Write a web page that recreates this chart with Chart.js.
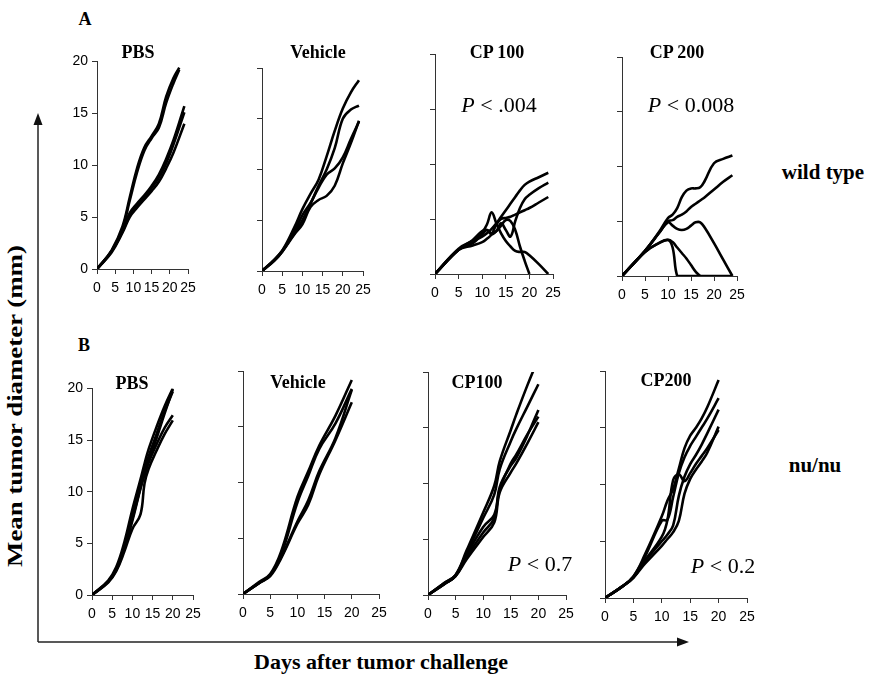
<!DOCTYPE html>
<html>
<head>
<meta charset="utf-8">
<script src="https://cdn.jsdelivr.net/npm/chart.js@4.4.0/dist/chart.umd.min.js"></script>
<style>
  body { margin: 0; background: #fff; }
  #fig { position: relative; width: 872px; height: 675px; overflow: hidden; }
  canvas { position: absolute; }
  .t { position: absolute; transform: translate(-50%, -50%); white-space: nowrap; color: #000;
       font-family: "Liberation Serif", "Times New Roman", serif; }
  .b { font-weight: bold; }
  .p { font-size: 22px; }
  .p i { font-style: italic; }
</style>
</head>
<body>
<div id="fig">
  <svg width="872" height="675" style="position:absolute;left:0;top:0">
    <line x1="38" y1="642" x2="38" y2="122" stroke="#222" stroke-width="1.5"/>
    <polygon points="38,113 33.5,125 42.5,125" fill="#111"/>
    <line x1="38" y1="642" x2="678" y2="642" stroke="#222" stroke-width="1.5"/>
    <polygon points="689,642 677,637.5 677,646.5" fill="#111"/>
  </svg>

  <canvas id="wtPbsC"></canvas>
  <canvas id="wtVehC"></canvas>
  <canvas id="wtCp100C"></canvas>
  <canvas id="wtCp200C"></canvas>
  <canvas id="nuPbsC"></canvas>
  <canvas id="nuVehC"></canvas>
  <canvas id="nuCp100C"></canvas>
  <canvas id="nuCp200C"></canvas>

  <div class="t b" style="left:85px;top:19px;font-size:18px">A</div>
  <div class="t b" style="left:84px;top:345px;font-size:18px">B</div>

  <div class="t b" style="left:138px;top:52px;font-size:18px">PBS</div>
  <div class="t b" style="left:318px;top:52px;font-size:18px">Vehicle</div>
  <div class="t b" style="left:497px;top:52px;font-size:18px">CP 100</div>
  <div class="t b" style="left:677px;top:52px;font-size:18px">CP 200</div>

  <div class="t b" style="left:132px;top:383px;font-size:18px">PBS</div>
  <div class="t b" style="left:298px;top:382px;font-size:18px">Vehicle</div>
  <div class="t b" style="left:477px;top:382px;font-size:18px">CP100</div>
  <div class="t b" style="left:666px;top:380px;font-size:18px">CP200</div>

  <div class="t p" style="left:499px;top:105px"><i>P</i> &lt; .004</div>
  <div class="t p" style="left:691px;top:105px"><i>P</i> &lt; 0.008</div>
  <div class="t p" style="left:540px;top:564px"><i>P</i> &lt; 0.7</div>
  <div class="t p" style="left:723px;top:566px"><i>P</i> &lt; 0.2</div>

  <div class="t b" style="left:823px;top:172px;font-size:21px">wild type</div>
  <div class="t b" style="left:815px;top:465px;font-size:21px">nu/nu</div>

  <div class="t b" style="left:381px;top:662px;font-size:22px">Days after tumor challenge</div>
  <div class="t b" style="left:15px;top:406px;font-size:22px;transform:translate(-50%,-50%) rotate(-90deg) scaleX(1.22)">Mean tumor diameter (mm)</div>
</div>

<script>
// ---- data: days after challenge, tumor diameter (mm) per mouse ----
// A: wild type
var daysWtPbs = [0, 4, 7, 9, 11, 13, 15, 17, 19, 21, 22.6, 24];
var wtPbs = [
  [0, 1.8, 4.1, 6.9, 9.7, 11.7, 12.8, 14.0, 16.6, 18.4, 19.4, null],
  [0, 1.7, 3.9, 6.6, 9.3, 11.4, 12.6, 13.6, 16.0, 17.9, 19.2, null],
  [0, 1.7, 3.7, 5.4, 6.3, 7.1, 8.0, 9.1, 10.6, 12.4, null, 15.7],
  [0, 1.7, 3.6, 5.2, 6.1, 6.9, 7.8, 8.8, 10.2, 12.0, null, 15.1],
  [0, 1.6, 3.5, 5.0, 5.9, 6.7, 7.5, 8.4, 9.7, 11.2, null, 14.0]
];

var daysWtVeh = [0, 3, 5, 8, 10, 12, 14, 16, 18, 20, 22, 24];
var wtVeh = [
  [0, 1.1, 2.0, 4.3, 6.1, 7.6, 9.0, 11.3, 13.8, 16.0, 17.6, 18.8],
  [0, 1.1, 2.0, 3.7, 5.0, 6.6, 8.4, 10.0, 12.1, 15.0, 15.9, 16.3],
  [0, 1.0, 1.9, 3.6, 4.6, 6.3, 7.0, 7.4, 8.4, 10.6, 12.6, 14.8],
  [0, 1.0, 1.9, 3.9, 5.5, 6.7, 8.2, 9.5, 10.1, 11.2, 13.0, 14.7]
];

var daysWtCp100 = [0, 5, 8, 10, 11, 12, 13, 14, 15, 16, 17, 18, 19, 20, 22, 24];
var wtCp100 = [
  [0, 2.3, 3.0, 3.4, 3.7, 4.1, 4.6, 5.2, 5.8, 6.4, 7.0, 7.6, 8.1, 8.4, 8.8, 9.2],
  [0, 2.2, 2.8, 3.6, 4.0, 3.7, 3.9, 4.6, 4.0, 3.4, 4.8, 6.0, 6.8, 7.2, 7.8, 8.3],
  [0, 2.2, 2.6, 2.9, 3.2, 3.6, 4.5, 5.0, 5.1, 5.2, 5.4, 5.6, 5.8, 6.0, 6.5, 7.0],
  [0, 2.2, 3.0, 3.8, 4.5, 5.6, 4.6, 3.7, 3.0, 2.5, 2.1, 2.0, 2.0, 1.7, 0.9, 0],
  [0, 2.2, 3.1, 3.9, 4.0, 3.6, 3.9, 4.4, 4.9, 4.8, 4.0, 2.5, 1.2, 0, null, null]
];

var daysWtCp200 = [0, 5, 8, 10, 11, 12, 13, 14, 15, 16, 17, 18, 20, 22, 24];
var wtCp200 = [
  [0, 2.3, 4.0, 5.3, 5.6, 6.2, 7.2, 7.8, 8.0, 8.0, 8.1, 8.7, 10.3, 10.7, 11.0],
  [0, 2.3, 3.9, 5.0, 5.1, 5.4, 5.6, 5.9, 6.3, 6.6, 6.9, 7.2, 7.9, 8.6, 9.2],
  [0, 2.3, 3.9, 4.9, 4.6, 4.3, 4.2, 4.3, 4.6, 4.9, 4.9, 4.4, 3.0, 1.5, 0],
  [0, 2.2, 3.0, 3.3, 2.6, 0, 0, 0, 0, 0, 0, 0, 0, 0, 0],
  [0, 2.2, 3.0, 3.3, 3.1, 2.6, 2.1, 1.6, 1.0, 0.4, 0, null, null, null, null]
];

// B: nu/nu
var daysNuPbs = [0, 4, 6, 8, 10, 12, 13, 14, 16, 18, 20];
var nuPbs = [
  [0, 1.4, 2.7, 5.1, 8.3, 11.2, 12.7, 14.1, 16.3, 18.3, 20.0],
  [0, 1.3, 2.5, 4.7, 7.6, 10.6, 12.1, 13.4, 15.6, 17.8, 19.7],
  [0, 1.3, 2.5, 4.7, 7.4, 10.4, 11.8, 13.0, 15.2, 17.6, 19.9],
  [0, 1.3, 2.4, 4.5, 7.2, 10.3, 11.6, 12.8, 14.6, 16.2, 17.4],
  [0, 1.2, 2.3, 4.2, 6.4, 7.8, 10.8, 12.2, 14.0, 15.6, 16.9]
];

var daysNuVeh = [0, 3, 5, 7, 10, 12, 14, 17, 20];
var nuVeh = [
  [0, 1.1, 1.8, 3.8, 8.7, 11.0, 13.3, 16.0, 19.2],
  [0, 1.0, 1.7, 3.5, 8.2, 10.6, 13.0, 15.3, 18.4],
  [0, 1.0, 1.7, 3.3, 6.5, 8.4, 11.0, 14.0, 18.3],
  [0, 1.0, 1.6, 3.2, 6.3, 8.0, 10.7, 13.8, 17.2]
];

var daysNuCp100 = [0, 3, 5, 7, 10, 12, 13, 15, 16, 18, 20];
var nuCp100 = [
  [0, 1.1, 1.8, 4.0, 7.4, 9.8, 12.0, 14.8, 16.2, 18.8, 21.2],
  [0, 1.1, 1.8, 3.8, 6.9, 9.0, 11.3, 13.8, 14.9, 16.9, 18.9],
  [0, 1.0, 1.7, 3.4, 5.6, 6.9, 9.7, 11.6, 12.3, 14.3, 16.6],
  [0, 1.0, 1.7, 3.2, 5.2, 6.5, 9.2, 11.0, 11.8, 13.6, 15.5],
  [0, 1.0, 1.7, 3.6, 6.1, 7.2, 9.5, 11.8, 12.6, 14.4, 16.0]
];

var daysNuCp200 = [0, 3, 5, 7, 10, 11, 12, 13, 14, 15, 16, 17, 18, 20];
var nuCp200 = [
  [0, 1.0, 1.9, 3.8, 7.2, 8.6, 9.6, 11.4, 13.2, 14.3, 15.0, 15.8, 16.8, 19.2],
  [0, 1.0, 1.9, 3.6, 6.8, 6.9, 8.9, 11.0, 12.4, 13.4, 14.2, 15.0, 15.8, 17.6],
  [0, 1.0, 1.8, 3.2, 5.0, 5.6, 6.4, 9.0, 10.7, 11.8, 12.6, 13.5, 14.5, 16.6],
  [0, 1.0, 1.8, 3.0, 4.6, 5.2, 5.8, 6.8, 9.2, 10.5, 11.3, 12.0, 12.8, 15.1],
  [0, 1.0, 1.8, 3.3, 5.4, 6.9, 10.4, 10.9, 10.3, 11.0, 11.8, 12.5, 13.2, 14.8]
];

var xTicks = [0, 5, 10, 15, 20, 25];
var yTicks = [0, 5, 10, 15, 20];

// ---- layout: pixel box of each plot area (x at day 0 / 25, y at 20 / 0) ----
var PAD_L = 36, PAD_R = 14, PAD_T = 10, PAD_B = 32;

function panel(id, box, days, series, showY) {
  var c = document.getElementById(id);
  c.width = box.x1 - box.x0 + PAD_L + PAD_R;
  c.height = box.yBot - box.yTop + PAD_T + PAD_B;
  c.style.left = (box.x0 - PAD_L) + 'px';
  c.style.top = (box.yTop - PAD_T) + 'px';

  var datasets = series.map(function (vals) {
    return {
      data: vals.map(function (v, i) { return { x: days[i], y: v }; }),
      borderColor: '#000',
      borderWidth: 2.6,
      pointRadius: 0,
      tension: 0.4,
      spanGaps: true,
      fill: false
    };
  });

  new Chart(c, {
    type: 'line',
    data: { datasets: datasets },
    options: {
      responsive: false,
      animation: false,
      layout: { padding: { top: PAD_T, right: PAD_R, left: 0, bottom: 0 } },
      plugins: { legend: { display: false }, tooltip: { enabled: false } },
      scales: {
        x: {
          type: 'linear', min: 0, max: 25,
          afterBuildTicks: function (s) { s.ticks = xTicks.map(function (v) { return { value: v }; }); },
          afterFit: function (s) { s.height = PAD_B; },
          ticks: { color: '#000', padding: 6, maxRotation: 0, autoSkip: false,
                   font: { family: 'Liberation Sans, Arial, sans-serif', size: 14 } },
          grid: { drawOnChartArea: false, tickLength: 5, color: '#333' },
          border: { color: '#333', width: 1 }
        },
        y: {
          min: 0, max: 20,
          afterBuildTicks: function (s) { s.ticks = yTicks.map(function (v) { return { value: v }; }); },
          afterFit: function (s) { s.width = PAD_L; },
          ticks: { display: showY, color: '#000', padding: 4,
                   font: { family: 'Liberation Sans, Arial, sans-serif', size: 14 } },
          grid: { drawOnChartArea: false, tickLength: 5, color: '#333' },
          border: { color: '#333', width: 1 }
        }
      }
    }
  });
}

panel('wtPbsC',   { x0: 97,  x1: 188, yTop: 59,  yBot: 269 }, daysWtPbs,   wtPbs,   true);
panel('wtVehC',   { x0: 262, x1: 363, yTop: 68,  yBot: 271 }, daysWtVeh,   wtVeh,   false);
panel('wtCp100C', { x0: 435, x1: 553, yTop: 54,  yBot: 274 }, daysWtCp100, wtCp100, false);
panel('wtCp200C', { x0: 622, x1: 737, yTop: 57,  yBot: 276 }, daysWtCp200, wtCp200, false);
panel('nuPbsC',   { x0: 92,  x1: 193, yTop: 386, yBot: 595 }, daysNuPbs,   nuPbs,   true);
panel('nuVehC',   { x0: 243, x1: 379, yTop: 371, yBot: 594 }, daysNuVeh,   nuVeh,   false);
panel('nuCp100C', { x0: 428, x1: 566, yTop: 372, yBot: 595 }, daysNuCp100, nuCp100, false);
panel('nuCp200C', { x0: 605, x1: 747, yTop: 371, yBot: 598 }, daysNuCp200, nuCp200, false);
</script>
</body>
</html>
